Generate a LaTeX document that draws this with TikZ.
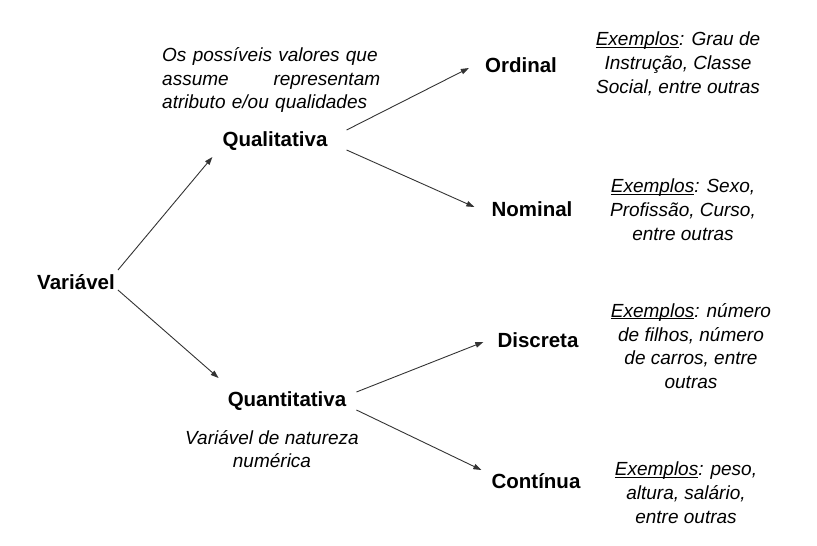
\documentclass[tikz,border=0pt]{standalone}
\usepackage{fontspec}
\setmainfont{Liberation Sans}
\usetikzlibrary{arrows.meta}

\newcommand{\exlabel}{\setbox0\hbox{Exemplos}\rlap{\rule[-2pt]{\wd0}{0.8pt}}\box0}

\tikzset{
	cat/.style={font=\bfseries\fontsize{20.5}{24}\selectfont, inner sep=2pt},
	desc/.style={font=\itshape\fontsize{19}{23.8}\selectfont, align=center, inner sep=0pt},
	arr/.style={-{Triangle[length=8pt,width=5.5pt]}, draw=black!80, line width=0.9pt}
}

\begin{document}
\begin{tikzpicture}[x=1pt, y=-1pt]
		\useasboundingbox (0,0) rectangle (817,546);
		% categories
		\node[cat] (var) at (76,282) {Variável};
		\node[cat] (qual) at (275,141) {Qualitativa};
		\node[cat] (quant) at (287,401) {Quantitativa};
		\node[cat] (ord) at (521,65) {Ordinal};
		\node[cat] (nom) at (532,209) {Nominal};
		\node[cat] (disc) at (538,340) {Discreta};
		\node[cat] (cont) at (536,481) {Contínua};
		% descriptions
		\node[desc, text width=218pt, align=left, anchor=west] (qualdesc) at (162,80)
			{Os possíveis valores que\\assume\hfill representam\\atributo e/ou qualidades};
		\node[desc] (quantdesc) at (272,449) {Variável de natureza\\numérica};
		\node[desc] (ordex) at (678,64) {\exlabel: Grau de\\Instrução, Classe\\Social, entre outras};
		\node[desc] (nomex) at (683,210) {\exlabel: Sexo,\\Profissão, Curso,\\entre outras};
		\node[desc] (discex) at (691,346) {\exlabel: número\\de filhos, número\\de carros, entre\\outras};
		\node[desc] (contex) at (686,493) {\exlabel: peso,\\altura, salário,\\entre outras};
		% arrows
		\draw[arr] ([shift={(1,-12)}]var.east) -- ([shift={(-8,16)}]qual.west);
		\draw[arr] ([shift={(1,8)}]var.east) -- ([shift={(-7,-23)}]quant.west);
		\draw[arr] ([shift={(17,-11)}]qual.east) -- ([shift={(-14,3)}]ord.west);
		\draw[arr] ([shift={(17,9)}]qual.east) -- ([shift={(-15,-2)}]nom.west);
		\draw[arr] ([shift={(8,-9)}]quant.east) -- ([shift={(-12,2)}]disc.west);
		\draw[arr] ([shift={(8,9)}]quant.east) -- ([shift={(-8,-11)}]cont.west);
	\end{tikzpicture}
\end{document}
